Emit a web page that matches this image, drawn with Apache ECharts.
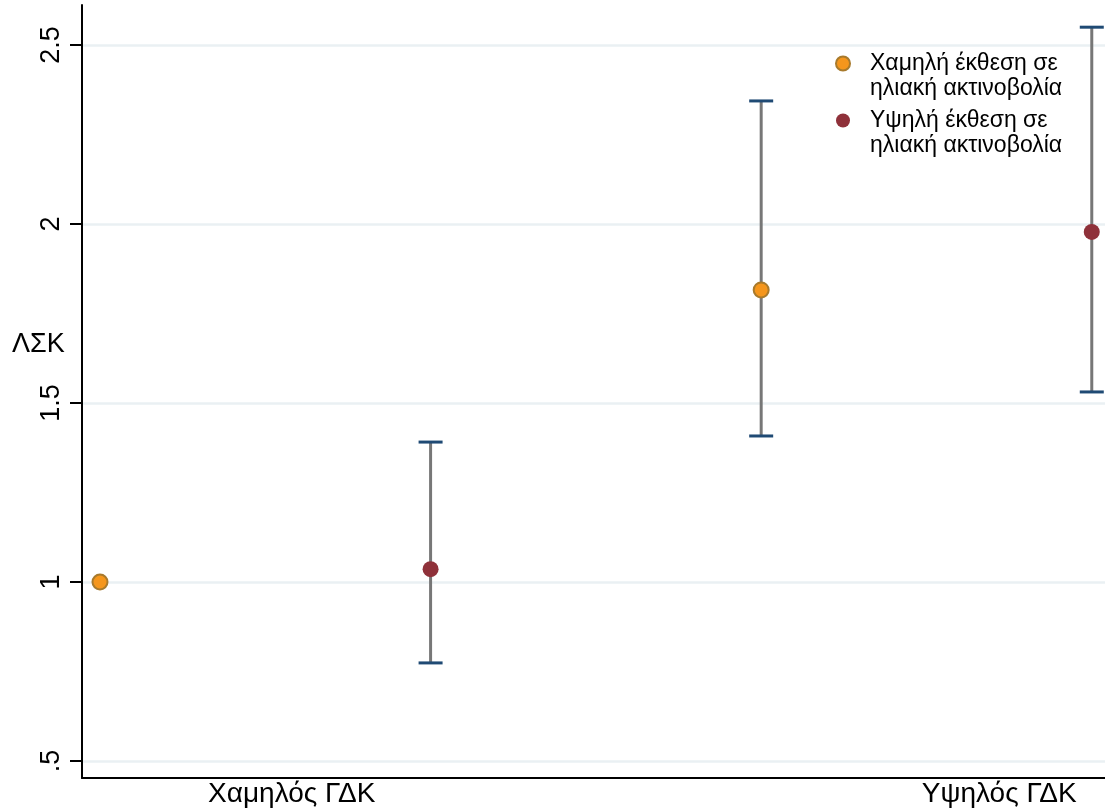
<!DOCTYPE html>
<html>
<head>
<meta charset="utf-8">
<script src="https://cdn.jsdelivr.net/npm/echarts@6/dist/echarts.min.js"></script>
<style>
  html, body { margin: 0; padding: 0; background: #ffffff; }
  #chart { width: 1105px; height: 810px; }
</style>
</head>
<body>
<div id="chart"></div>
<script>
// Group labels on the horizontal axis and where they sit on the x scale
const groupLabels = ['Χαμηλός ΓΔΚ', 'Υψηλός ΓΔΚ'];
const groupLabelPos = [1.58, 3.72];

// Vertical axis ticks
const yTicks = [0.5, 1, 1.5, 2, 2.5];
const yTickLabels = ['.5', '1', '1.5', '2', '2.5'];

// Series names (legend)
const seriesNames = ['Χαμηλή έκθεση σε\nηλιακή ακτινοβολία', 'Υψηλή έκθεση σε\nηλιακή ακτινοβολία'];

// Point estimates
const lowExpX = [1, 3];
const lowExpEst = [1.0, 1.816];
const highExpX = [2, 4];
const highExpEst = [1.036, 1.978];

// 95% confidence intervals (the reference group has none)
const ciX = [2, 3, 4];
const ciLower = [0.774, 1.408, 1.531];
const ciUpper = [1.391, 2.344, 2.550];

const FONT = "'Liberation Sans', Arial, sans-serif";

const chart = echarts.init(document.getElementById('chart'));

function pairs(xs, ys) { return xs.map((x, i) => [x, ys[i]]); }

function renderCI(params, api) {
  const x = api.value(0);
  const lo = api.coord([x, api.value(1)]);
  const hi = api.coord([x, api.value(2)]);
  const half = 12;
  return {
    type: 'group',
    children: [
      { type: 'line', shape: { x1: lo[0], y1: lo[1], x2: hi[0], y2: hi[1] },
        style: { stroke: '#777777', lineWidth: 3 } },
      { type: 'line', shape: { x1: hi[0] - half, y1: hi[1], x2: hi[0] + half, y2: hi[1] },
        style: { stroke: '#1f4a74', lineWidth: 3 } },
      { type: 'line', shape: { x1: lo[0] - half, y1: lo[1], x2: lo[0] + half, y2: lo[1] },
        style: { stroke: '#1f4a74', lineWidth: 3 } }
    ]
  };
}

chart.setOption({
  backgroundColor: '#ffffff',
  animation: false,
  textStyle: { fontFamily: FONT },
  grid: { left: 82, right: 0, top: 5, bottom: 32, containLabel: false },
  xAxis: {
    type: 'value',
    min: 0.9456,
    max: 4.04,
    axisLine: { show: true, lineStyle: { color: '#000000', width: 2 } },
    axisTick: { show: false },
    splitLine: { show: false },
    axisLabel: {
      customValues: groupLabelPos,
      formatter: v => groupLabels[groupLabelPos.indexOf(v)],
      color: '#000000',
      fontSize: 28,
      fontFamily: FONT,
      margin: 2
    }
  },
  yAxis: {
    type: 'value',
    min: 0.4525,
    max: 2.612,
    axisLine: { show: true, lineStyle: { color: '#000000', width: 2 } },
    axisTick: { show: true, customValues: yTicks, length: 12, lineStyle: { color: '#000000', width: 2 } },
    splitLine: { show: true, lineStyle: { color: '#eaf0f3', width: 2.5 } },
    axisLabel: {
      customValues: yTicks,
      formatter: v => yTickLabels[yTicks.indexOf(v)],
      rotate: 90,
      color: '#000000',
      fontSize: 27,
      fontFamily: FONT,
      margin: 17
    }
  },
  legend: {
    data: seriesNames,
    orient: 'vertical',
    left: 835,
    top: 26,
    padding: 0,
    itemWidth: 44,
    itemHeight: 14,
    itemGap: -18,
    icon: 'circle',
    selectedMode: false,
    // a leading blank line keeps the marker level with the first text line
    formatter: name => '\n' + name,
    textStyle: {
      fontFamily: FONT,
      fontSize: 23,
      lineHeight: 25,
      color: '#000000'
    }
  },
  graphic: [
    {
      type: 'text',
      left: 12,
      top: 331,
      style: { text: 'ΛΣΚ', font: "27px 'Liberation Sans', Arial, sans-serif", fill: '#000000' }
    }
  ],
  series: [
    {
      type: 'custom',
      name: 'CI',
      renderItem: renderCI,
      encode: { x: 0, y: [1, 2] },
      data: ciX.map((x, i) => [x, ciLower[i], ciUpper[i]]),
      z: 1,
      clip: false
    },
    {
      type: 'scatter',
      name: seriesNames[0],
      data: pairs(lowExpX, lowExpEst),
      symbol: 'circle',
      symbolSize: 15,
      itemStyle: { color: '#f5961c', borderColor: '#a87a2c', borderWidth: 2, opacity: 1 },
      z: 3
    },
    {
      type: 'scatter',
      name: seriesNames[1],
      data: pairs(highExpX, highExpEst),
      symbol: 'circle',
      symbolSize: 16,
      itemStyle: { color: '#8f313a', opacity: 1 },
      z: 3
    }
  ]
});
</script>
</body>
</html>
